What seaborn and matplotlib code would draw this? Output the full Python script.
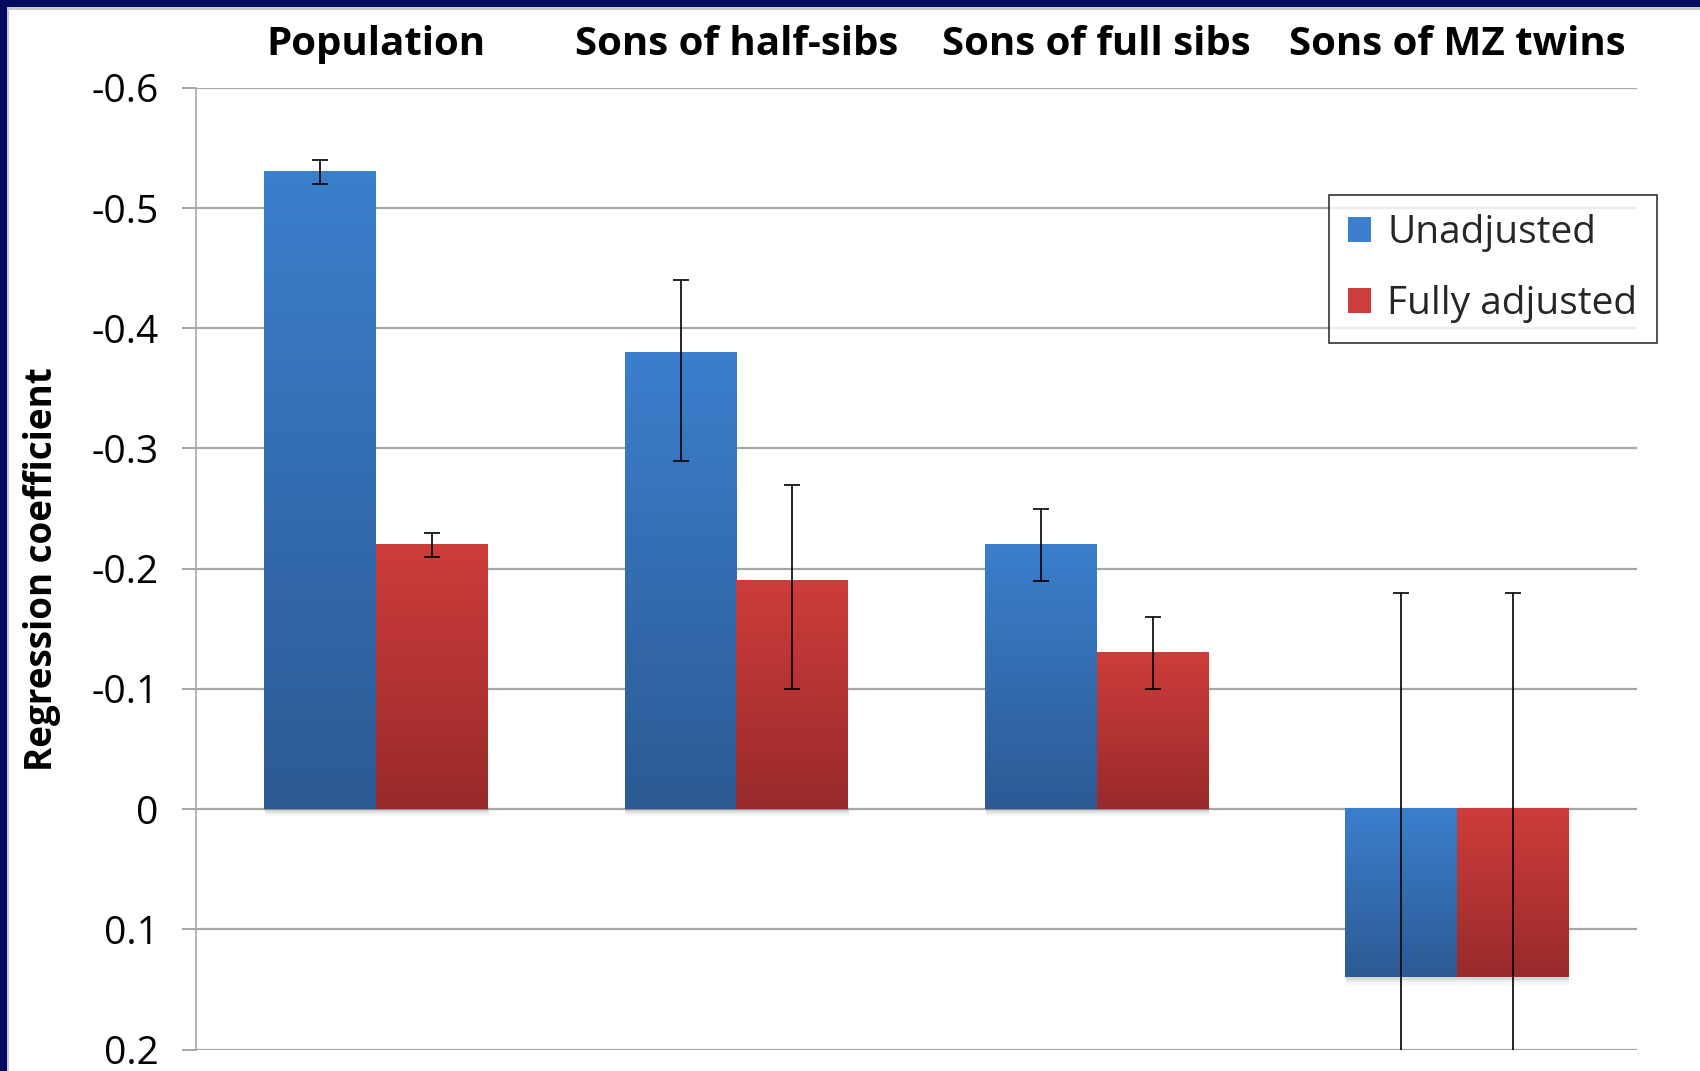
import numpy as np
import pandas as pd
import seaborn as sns
import matplotlib.pyplot as plt
from matplotlib.colors import LinearSegmentedColormap
from matplotlib.patches import Patch, Rectangle

# 資料 (從圖上讀出的估計值)
groups = ['Population', 'Sons of half-sibs', 'Sons of full sibs', 'Sons of MZ twins']
series = ['Unadjusted', 'Fully adjusted']
unadjusted = [-0.53, -0.38, -0.22, 0.14]
adjusted = [-0.22, -0.19, -0.13, 0.14]
# 誤差線的上下界 (負值端 / 正值端)
unadj_lo = [-0.54, -0.44, -0.25, -0.18]
unadj_hi = [-0.52, -0.29, -0.19, 0.46]
adj_lo = [-0.23, -0.27, -0.16, -0.18]
adj_hi = [-0.21, -0.10, -0.10, 0.46]
y_ticks = [-0.6, -0.5, -0.4, -0.3, -0.2, -0.1, 0, 0.1, 0.2]
y_tick_labels = ['-0.6', '-0.5', '-0.4', '-0.3', '-0.2', '-0.1', '0', '0.1', '0.2']

sns.set_theme(style='white')
plt.rcParams['font.family'] = ['Open Sans', 'DejaVu Sans']

df = pd.DataFrame({
    'group': groups * 2,
    'series': [series[0]] * 4 + [series[1]] * 4,
    'value': unadjusted + adjusted,
})

# 漸層色 (上亮下暗)
grad = {
    'Unadjusted': ('#3b7fcd', '#2c5a94'),
    'Fully adjusted': ('#cd3d3b', '#992a2a'),
}
lows = {'Unadjusted': unadj_lo, 'Fully adjusted': adj_lo}
highs = {'Unadjusted': unadj_hi, 'Fully adjusted': adj_hi}

fig = plt.figure(figsize=(17, 10.71), dpi=100)
ax = fig.add_axes([0.1153, 0.020, 0.8477, 0.898])

sns.barplot(data=df, x='group', y='value', hue='series', order=groups, hue_order=series,
            palette=[grad[s][0] for s in series], width=0.62, dodge=True,
            errorbar=None, legend=False, ax=ax, zorder=3)

ax.set_ylim(0.2, -0.6)
ax.set_xlim(-0.5, len(groups) - 0.5)

# 每根柱子畫漸層 + 陰影 + 誤差線
for s, cont in zip(series, ax.containers):
    cmap = LinearSegmentedColormap.from_list(s, [grad[s][1], grad[s][0]])
    vals = df[df.series == s]['value'].tolist()
    for j, bar in enumerate(cont.patches):
        x0 = bar.get_x()
        w = bar.get_width()
        ya = bar.get_y()
        yb = ya + bar.get_height()
        top_v, bot_v = min(ya, yb), max(ya, yb)
        g = np.linspace(0, 1, 256).reshape(-1, 1)
        # 柔和陰影
        for k, a in enumerate([0.07, 0.05, 0.03]):
            ax.add_patch(Rectangle((x0 + 0.002, bot_v), w, 0.002 * (k + 1), facecolor='#000000',
                                   alpha=a, edgecolor='none', zorder=2))
        ax.imshow(g, cmap=cmap, origin='lower', aspect='auto',
                  extent=[x0, x0 + w, bot_v, top_v], zorder=3, interpolation='bilinear')
        bar.set_visible(False)
        val = vals[j]
        lo = lows[s][j]
        hi = highs[s][j]
        ax.errorbar(x0 + w / 2, val, yerr=[[val - lo], [hi - val]], fmt='none',
                    ecolor='black', elinewidth=1.2, capsize=6, capthick=1.2, zorder=5)

ax.set_ylim(0.2, -0.6)
ax.set_xlim(-0.5, len(groups) - 0.5)

# 軸與格線
ax.set_yticks(y_ticks)
ax.set_yticklabels(y_tick_labels, fontsize=28, color='black')
ax.grid(axis='y', color='#a6a6a6', linewidth=1.6, zorder=0)
ax.grid(axis='x', visible=False)
for side in ['top', 'right', 'bottom']:
    ax.spines[side].set_visible(False)
ax.spines['left'].set_color('#a6a6a6')
ax.spines['left'].set_linewidth(1.2)
ax.tick_params(axis='y', which='major', left=True, length=10, width=1.4, color='#a6a6a6', pad=17)

ax.xaxis.tick_top()
ax.tick_params(axis='x', top=False, bottom=False, pad=11)
ax.set_xticks(range(len(groups)))
ax.set_xticklabels(groups, fontsize=29, fontweight='bold', color='black')
ax.set_xlabel('')

ax.set_ylabel('Regression coefficient', fontsize=26.5, fontweight='bold', color='black')
ax.yaxis.label.set_va('center')
ax.yaxis.set_label_coords(-0.107, 0.5)

# 圖例
handles = [Patch(facecolor=grad[s][0], edgecolor='none') for s in series]
leg = ax.legend(handles, series, loc='upper left', bbox_to_anchor=(0.786, 0.889),
                borderaxespad=0, fontsize=28, frameon=True, fancybox=False,
                handlelength=0.6, handleheight=0.6, handletextpad=0.4,
                labelspacing=0.85, borderpad=0.5)
leg.get_frame().set_edgecolor('black')
leg.get_frame().set_linewidth(1.2)
leg.set_zorder(10)

# 外框 (左、上深藍色)
fig.patches.append(Rectangle((0, 0), 7 / 1700, 1, transform=fig.transFigure,
                             facecolor='#000a5e', edgecolor='none', zorder=20))
fig.patches.append(Rectangle((0, 1 - 7 / 1071), 1, 7 / 1071, transform=fig.transFigure,
                             facecolor='#000a5e', edgecolor='none', zorder=20))
fig.patches.append(Rectangle((7 / 1700, 0), 2 / 1700, 1 - 7 / 1071, transform=fig.transFigure,
                             facecolor='#c8c8c8', edgecolor='none', zorder=20))
fig.patches.append(Rectangle((7 / 1700, 1 - 10 / 1071), 1, 3 / 1071, transform=fig.transFigure,
                             facecolor='#c8c8c8', edgecolor='none', zorder=20))

fig.savefig('out.png', dpi=100)
